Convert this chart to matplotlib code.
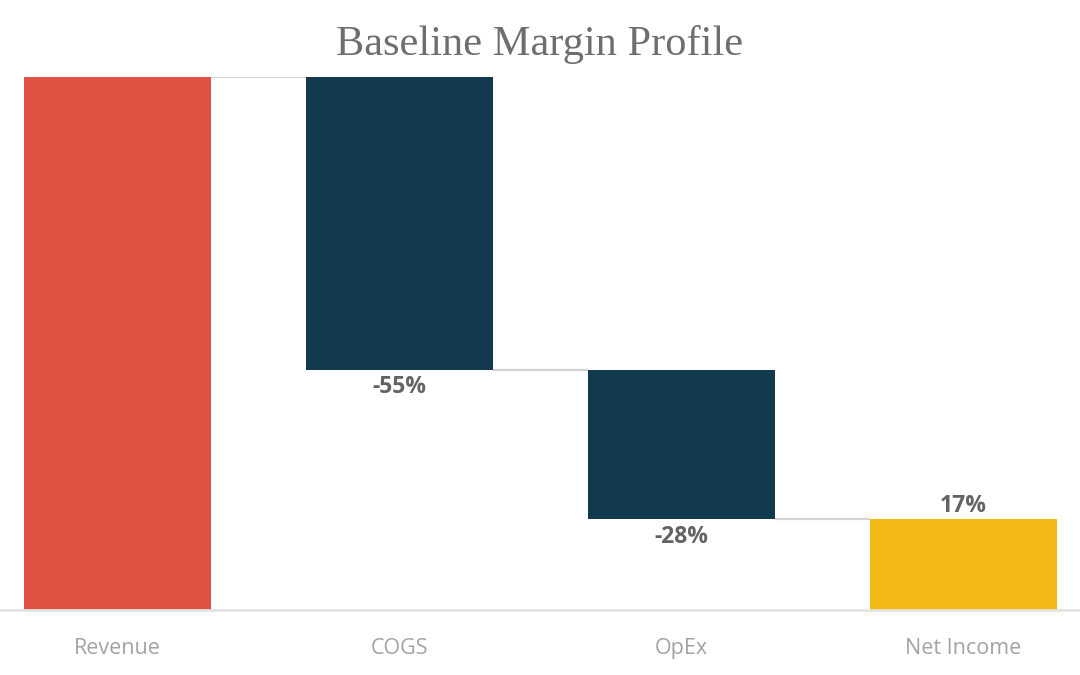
import matplotlib
matplotlib.use("Agg")
import matplotlib.pyplot as plt
import numpy as np

categories = ["Revenue", "COGS", "OpEx", "Net Income"]
values = [100, -55, -28, 17]
labels = ["", "-55%", "-28%", "17%"]
kinds = ["total", "delta", "delta", "total"]
colors = ["#E05243", "#123A4E", "#123A4E", "#F2B813"]

fig = plt.figure(figsize=(10.8, 6.75), dpi=100)
ax = fig.add_axes([0, 1 - 610 / 675, 1, (610 - 77) / 675])

x = np.arange(len(categories))
width = 0.663
bottoms, heights, levels = [], [], []
running = 0
for v, k in zip(values, kinds):
    if k == "total":
        bottoms.append(0)
        heights.append(v)
        running = v
    else:
        new = running + v
        bottoms.append(min(running, new))
        heights.append(abs(v))
        running = new
    levels.append(running)

ax.bar(x, heights, bottom=bottoms, width=width, color=colors, zorder=2)

# connectors
for i in range(len(x) - 1):
    lvl = levels[i]
    ax.plot([x[i] + width / 2, x[i + 1] - width / 2], [lvl, lvl],
            color="#d4d4d4", lw=1.6, zorder=1, solid_capstyle="butt")

# value labels
for i, (lab, k, v) in enumerate(zip(labels, kinds, values)):
    if not lab:
        continue
    if k == "delta":
        y = bottoms[i]
        ax.text(x[i], y - 1.0, lab, ha="center", va="top", fontsize=16.5,
                fontweight="bold", color="#636363", family="Open Sans")
    else:
        y = bottoms[i] + heights[i]
        ax.text(x[i], y + 0.3, lab, ha="center", va="bottom", fontsize=16.5,
                fontweight="bold", color="#636363", family="Open Sans")

ax.set_xlim(-117.5 / 282, (1080 - 117.5) / 282)
ax.set_ylim(0, 100)
for s in ["top", "right", "left"]:
    ax.spines[s].set_visible(False)
ax.spines["bottom"].set_color("#e3e3e3")
ax.spines["bottom"].set_linewidth(2)
ax.set_yticks([])
ax.set_xticks(x)
ax.set_xticklabels(categories, fontsize=15.5, color="#a3a3a3", family="Open Sans")
ax.tick_params(axis="x", length=0, pad=20)

fig.text(0.5, 1 - 45 / 675, "Baseline Margin Profile", ha="center", va="center",
         fontsize=30.5, color="#6e6e6e", family="Liberation Serif")

fig.savefig("out.png", dpi=100)
